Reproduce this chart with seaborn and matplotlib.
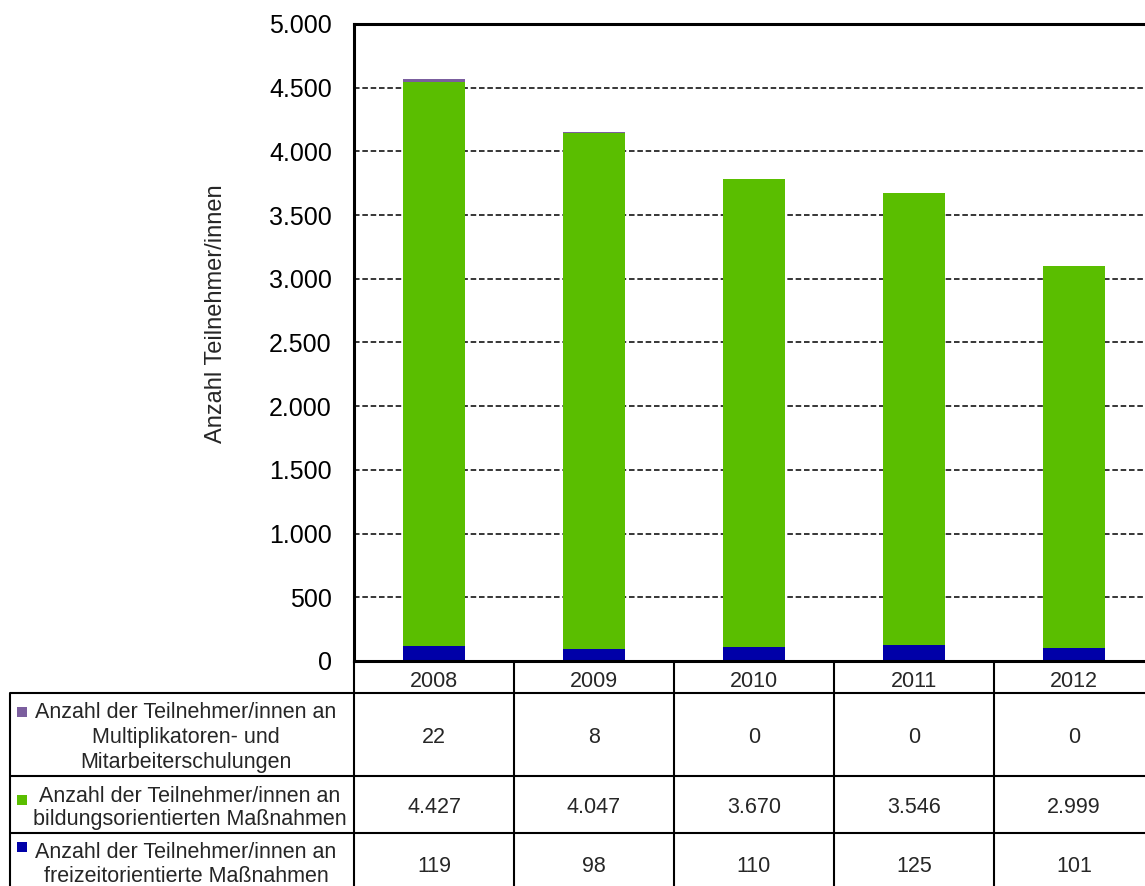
import matplotlib
matplotlib.use("Agg")
import matplotlib.pyplot as plt
import seaborn as sns
import pandas as pd
from matplotlib.transforms import blended_transform_factory
from matplotlib.patches import Rectangle

# ---------------- data ----------------
years = ["2008", "2009", "2010", "2011", "2012"]
schulungen = [22, 8, 0, 0, 0]
bildung = [4427, 4047, 3670, 3546, 2999]
freizeit = [119, 98, 110, 125, 101]

row_labels = [
    ["Anzahl der Teilnehmer/innen an", "Multiplikatoren- und", "Mitarbeiterschulungen"],
    ["Anzahl der Teilnehmer/innen an", "bildungsorientierten Maßnahmen"],
    ["Anzahl der Teilnehmer/innen an", "freizeitorientierte Maßnahmen"],
]
series_colors = ["#7B5E9E", "#5ABE00", "#0000A8"]
y_ticks = [0, 500, 1000, 1500, 2000, 2500, 3000, 3500, 4000, 4500, 5000]
y_tick_labels = ["0", "500", "1.000", "1.500", "2.000", "2.500", "3.000",
                 "3.500", "4.000", "4.500", "5.000"]
y_label = "Anzahl Teilnehmer/innen"


def fmt(v):
    return f"{v:,}".replace(",", ".")


# ---------------- style ----------------
sns.set_style("white")
plt.rcParams["font.family"] = ["Liberation Sans", "DejaVu Sans"]
plt.rcParams["lines.scale_dashes"] = False

W, H = 1145, 886
fig = plt.figure(figsize=(W / 100, H / 100), dpi=100)
fig.patch.set_facecolor("white")

# main axes (pixel geometry of the reference)
ax_l, ax_r, ax_t, ax_b = 354, 1154, 24, 661
ax = fig.add_axes([ax_l / W, (H - ax_b) / H, (ax_r - ax_l) / W, (ax_b - ax_t) / H])

df = pd.DataFrame({"Jahr": years, "s": schulungen, "b": bildung, "f": freizeit})
df["top"] = df["s"] + df["b"] + df["f"]
df["mid"] = df["b"] + df["f"]

for col, c in zip(["top", "mid", "f"], series_colors):
    sns.barplot(data=df, x="Jahr", y=col, color=c, width=0.39, saturation=1,
                errorbar=None, linewidth=0, ax=ax)

ax.set_xlim(-0.5, 4.5)
ax.set_ylim(0, 5000)
ax.set_yticks(y_ticks)
ax.set_yticklabels(y_tick_labels)
ax.set_xticks([])
ax.set_xlabel("")
ax.set_ylabel(y_label, fontsize=17)
ax.yaxis.set_label_coords((227 - ax_l) / (ax_r - ax_l), (ax_b - 314) / (ax_b - ax_t))
ax.tick_params(axis="y", direction="in", length=5, width=1.5, pad=16,
               labelsize=18, colors="black")
ax.set_axisbelow(True)
ax.yaxis.grid(True, color="black", linestyle=(0, (4, 2)), linewidth=1.1)
for s in ["left", "top", "bottom"]:
    ax.spines[s].set_visible(True)
    ax.spines[s].set_color("black")
    ax.spines[s].set_linewidth(2.2)
ax.spines["right"].set_visible(False)

# ---------------- data table ----------------
tab = fig.add_axes([0, 0, 1, 1], zorder=-1)
tab.set_xlim(0, W)
tab.set_ylim(H, 0)
tab.axis("off")
tr = blended_transform_factory(ax.transData, tab.transData)

lw = 1.5
fs = 15.5
# horizontal lines
for y in [693, 776, 833]:
    tab.plot([10, W], [y, y], color="black", lw=lw, solid_capstyle="butt")
# vertical lines of year columns
for i in range(len(years) + 1):
    tab.plot([i - 0.5, i - 0.5], [661, H], color="black", lw=lw, transform=tr)
# left edge of label column
tab.plot([10, 10], [693, H], color="black", lw=lw)

# header
for i, yr in enumerate(years):
    tab.text(i, 687, yr, ha="center", va="baseline", fontsize=fs, transform=tr)

rows = [schulungen, bildung, freizeit]
label_baselines = [[718, 743, 768], [802, 825], [858, 882]]
label_centers = [186, 190, 186]
value_baselines = [743, 813, 872]
square_tops = [707, 795, 842]

for r, (vals, lines) in enumerate(zip(rows, row_labels)):
    for line, yb in zip(lines, label_baselines[r]):
        tab.text(label_centers[r], yb, line, ha="center", va="baseline", fontsize=fs)
    tab.add_patch(Rectangle((17, square_tops[r]), 10, 10, color=series_colors[r], lw=0))
    for i, v in enumerate(vals):
        tab.text(i, value_baselines[r], fmt(v), ha="center", va="baseline",
                 fontsize=fs, transform=tr)

fig.savefig("out.png", dpi=100, facecolor="white")
